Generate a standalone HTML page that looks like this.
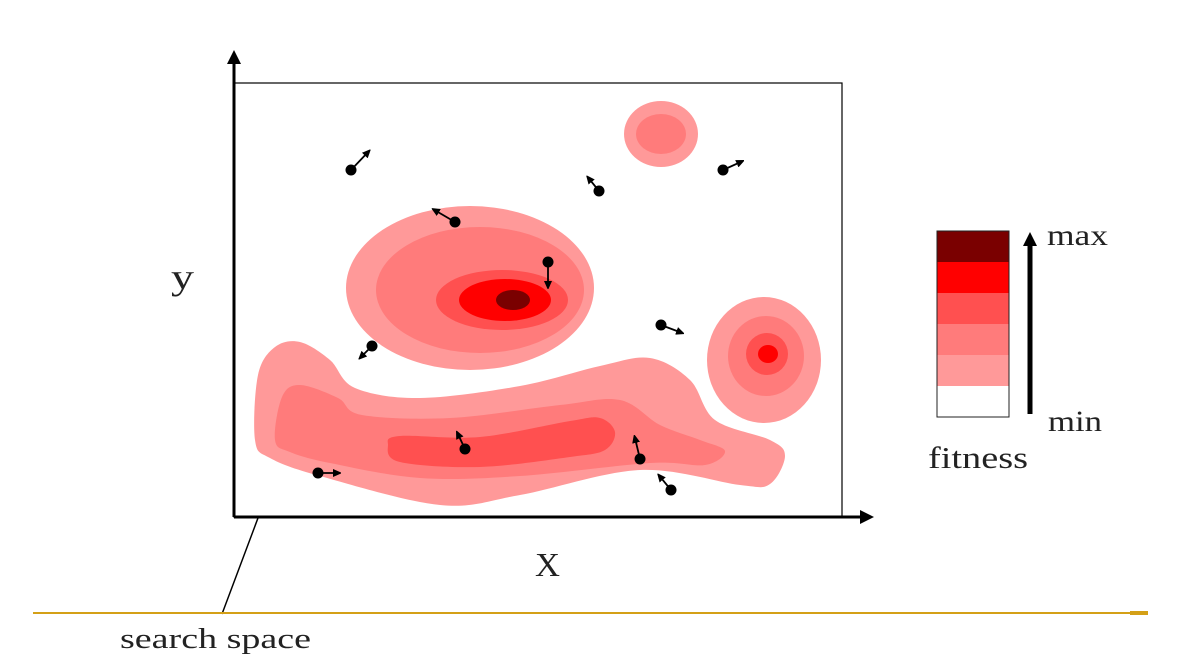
<!DOCTYPE html>
<html><head><meta charset="utf-8"><style>
html,body{margin:0;padding:0;background:#fff;width:1182px;height:670px;overflow:hidden}
text{font-family:"Liberation Serif",serif;fill:#222}
</style></head><body>
<svg id="s" width="1182" height="670" viewBox="0 0 1182 670">
<defs><marker id="ah" markerWidth="8" markerHeight="8" refX="5" refY="4" orient="auto" markerUnits="userSpaceOnUse"><path d="M0,0 L9,4 L0,8 Z" fill="#000"/></marker>
<marker id="big" markerWidth="16" markerHeight="14" refX="2" refY="7" orient="auto" markerUnits="userSpaceOnUse"><path d="M0,0 L14,7 L0,14 Z" fill="#000"/></marker></defs>
<g id="blobs"></g>
<rect x="234" y="83" width="608" height="434" fill="none" stroke="#000" stroke-width="1.2"/>
<line x1="234" y1="517" x2="234" y2="62" stroke="#000" stroke-width="3" marker-end="url(#big)"/>
<line x1="234" y1="517" x2="862" y2="517" stroke="#000" stroke-width="3" marker-end="url(#big)"/>
<g id="parts"></g>
<text x="171" y="289" font-size="36" textLength="23" lengthAdjust="spacingAndGlyphs">y</text>
<text x="535" y="576" font-size="34" textLength="25" lengthAdjust="spacingAndGlyphs">X</text>
<line x1="258" y1="518" x2="222" y2="614" stroke="#000" stroke-width="1.5"/>
<line x1="33" y1="613" x2="1130" y2="613" stroke="#d4a017" stroke-width="2"/>
<line x1="1130" y1="613" x2="1148" y2="613" stroke="#d4a017" stroke-width="4"/>
<text x="120" y="648" font-size="28" textLength="191" lengthAdjust="spacingAndGlyphs">search space</text>
<g id="legend"></g>
<line x1="1030" y1="414" x2="1030" y2="244" stroke="#000" stroke-width="5" marker-end="url(#big)"/>
<text x="1047" y="245" font-size="30" textLength="61" lengthAdjust="spacingAndGlyphs">max</text>
<text x="1048" y="431" font-size="30" textLength="54" lengthAdjust="spacingAndGlyphs">min</text>
<text x="928" y="468" font-size="31" textLength="100" lengthAdjust="spacingAndGlyphs">fitness</text>
</svg>
<script>
const NS="http://www.w3.org/2000/svg";
const levelColors=["#ff9999","#ff7b7b","#ff5050","#ff0000","#7a0000"];
const legendColors=["#7a0000","#ff0000","#ff5050","#ff7b7b","#ff9999","#ffffff"];
const ellipses=[[661,134,37,33,0],[661,134,25,20,1],
[470,288,124,82,0],[480,290,104,63,1],[502,300,66,30,2],[505,300,46,21,3],[513,300,17,10,4],
[764,360,57,63,0],[766,356,38,40,1],[767,354,21,21,2],[768,354,10,9,3]];
const band0=[[255,440],[258,375],[275,347],[300,342],[330,360],[355,388],[420,398],[520,386],[600,366],[650,358],[690,380],[715,420],[770,440],[785,456],[770,484],[740,485],[640,470],[520,495],[440,505],[320,476],[270,458]];
const band1=[[275,440],[282,397],[300,385],[338,398],[362,415],[450,418],[560,405],[620,400],[660,425],[700,440],[725,451],[705,465],[650,463],[520,476],[420,478],[330,463],[290,452]];
const band2=[[388,445],[400,436],[480,437],[570,421],[600,418],[615,432],[605,450],[570,457],[480,467],[400,462]];
const particles=[[351,170,371,149],[455,222,431,208],[548,262,548,290],[599,191,586,175],[723,170,745,160],[661,325,685,334],[372,346,358,360],[465,449,456,430],[318,473,342,473],[640,459,634,434],[671,490,657,473]];
function smooth(p){let d="M"+p[0];const n=p.length;for(let i=0;i<n;i++){const a=p[(i-1+n)%n],b=p[i],c=p[(i+1)%n],e=p[(i+2)%n];
d+=` C${b[0]+(c[0]-a[0])/6},${b[1]+(c[1]-a[1])/6} ${c[0]-(e[0]-b[0])/6},${c[1]-(e[1]-b[1])/6} ${c[0]},${c[1]}`;}return d+"Z";}
const B=document.getElementById("blobs");
[[band0,0],[band1,1],[band2,2]].forEach(([p,l],i)=>{const el=document.createElementNS(NS,"path");el.setAttribute("d",smooth(p));el.setAttribute("fill",levelColors[l]);


B.appendChild(el);});
ellipses.forEach(e=>{const el=document.createElementNS(NS,"ellipse");el.setAttribute("cx",e[0]);el.setAttribute("cy",e[1]);el.setAttribute("rx",e[2]);el.setAttribute("ry",e[3]);el.setAttribute("fill",levelColors[e[4]]);


B.appendChild(el);});
const P=document.getElementById("parts");
particles.forEach(q=>{const g=document.createElementNS(NS,"g");


const l=document.createElementNS(NS,"line");l.setAttribute("x1",q[0]);l.setAttribute("y1",q[1]);
const dx=q[2]-q[0],dy=q[3]-q[1],L=Math.hypot(dx,dy);l.setAttribute("x2",q[2]-dx/L*4);l.setAttribute("y2",q[3]-dy/L*4);
l.setAttribute("stroke","#000");l.setAttribute("stroke-width","1.8");l.setAttribute("marker-end","url(#ah)");
const c=document.createElementNS(NS,"circle");c.setAttribute("cx",q[0]);c.setAttribute("cy",q[1]);c.setAttribute("r","5.5");c.setAttribute("fill","#000");
g.appendChild(l);g.appendChild(c);P.appendChild(g);});
const G=document.getElementById("legend");
legendColors.forEach((c,i)=>{const r=document.createElementNS(NS,"rect");r.setAttribute("x",937);r.setAttribute("y",231+i*31);r.setAttribute("width",72);r.setAttribute("height",31);r.setAttribute("fill",c);


G.appendChild(r);});
const fr=document.createElementNS(NS,"rect");fr.setAttribute("x",937);fr.setAttribute("y",231);fr.setAttribute("width",72);fr.setAttribute("height",186);fr.setAttribute("fill","none");fr.setAttribute("stroke","#222");


G.appendChild(fr);
</script>
</body></html>
